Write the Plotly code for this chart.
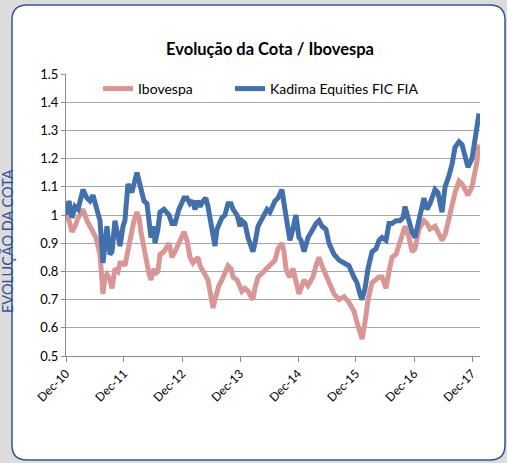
import plotly.graph_objects as go

# ---------------- data ----------------
dates = [
    "2010-12-31", "2011-01-19", "2011-02-07", "2011-02-26", "2011-03-17", "2011-04-17", "2011-05-12",
    "2011-05-31", "2011-06-19", "2011-07-08", "2011-08-02", "2011-08-21", "2011-09-02", "2011-09-15",
    "2011-10-04", "2011-10-17", "2011-11-04", "2011-11-23", "2011-12-06", "2011-12-25", "2012-01-06",
    "2012-01-25", "2012-02-19", "2012-03-03", "2012-03-22", "2012-04-04", "2012-04-16", "2012-05-05",
    "2012-05-24", "2012-06-06", "2012-06-18", "2012-07-07", "2012-07-13", "2012-08-01", "2012-08-14",
    "2012-09-08", "2012-10-10", "2012-10-28", "2012-11-16", "2012-12-11", "2013-01-12", "2013-01-31",
    "2013-02-19", "2013-03-10", "2013-03-22", "2013-04-10", "2013-04-23", "2013-05-12", "2013-05-30",
    "2013-06-12", "2013-07-01", "2013-07-14", "2013-07-26", "2013-08-08", "2013-08-20", "2013-09-08",
    "2013-09-27", "2013-10-16", "2013-11-04", "2013-11-17", "2013-12-12", "2013-12-31", "2014-01-12",
    "2014-01-31", "2014-02-19", "2014-03-10", "2014-03-22", "2014-04-04", "2014-04-23", "2014-05-12",
    "2014-05-31", "2014-06-19", "2014-07-07", "2014-07-20", "2014-08-08", "2014-08-27", "2014-09-21",
    "2014-10-04", "2014-10-16", "2014-10-29", "2014-11-10", "2014-11-29", "2014-12-18", "2015-01-06",
    "2015-01-19", "2015-02-07", "2015-03-04", "2015-04-04", "2015-04-23", "2015-05-12", "2015-05-31",
    "2015-06-25", "2015-07-14", "2015-08-15", "2015-09-15", "2015-10-17", "2015-11-17", "2015-12-18",
    "2016-01-06", "2016-01-25", "2016-02-07", "2016-02-26", "2016-03-16", "2016-04-10", "2016-05-05",
    "2016-05-24", "2016-06-12", "2016-07-07", "2016-07-26", "2016-08-14", "2016-09-08", "2016-10-03",
    "2016-10-22", "2016-11-04", "2016-11-29", "2016-12-18", "2017-01-06", "2017-01-31", "2017-03-03",
    "2017-03-22", "2017-04-10", "2017-05-12", "2017-05-30", "2017-06-25", "2017-07-14", "2017-08-08",
    "2017-08-27", "2017-09-15", "2017-10-10", "2017-10-29", "2017-11-17", "2017-12-05", "2017-12-31",
    "2018-01-19", "2018-01-31", "2018-02-13",
]

kadima = [
    1.00, 1.05, 0.99, 1.03, 1.02, 1.09, 1.06,
    1.05, 1.07, 1.03, 0.98, 0.83, 0.92, 0.96,
    0.86, 0.87, 0.98, 0.92, 0.89, 0.96, 0.98,
    1.11, 1.08, 1.11, 1.15, 1.12, 1.09, 1.05,
    1.04, 0.96, 0.92, 0.96, 0.90, 0.95, 1.01,
    1.02, 1.00, 0.97, 0.97, 1.02, 1.06, 1.06,
    1.04, 1.05, 1.02, 1.05, 1.03, 1.05, 1.06,
    1.03, 0.96, 0.91, 0.89, 0.95, 0.97, 0.99,
    1.00, 1.04, 1.04, 1.02, 1.00, 0.96, 0.98,
    0.97, 0.92, 0.89, 0.87, 0.90, 0.96, 0.98,
    1.00, 1.02, 1.01, 1.03, 1.05, 1.06, 1.09,
    1.04, 1.00, 0.96, 0.91, 0.95, 1.00, 0.92,
    0.91, 0.87, 0.92, 0.95, 0.97, 0.98, 0.96,
    0.95, 0.90, 0.86, 0.84, 0.83, 0.82, 0.78,
    0.76, 0.72, 0.70, 0.74, 0.81, 0.87, 0.88,
    0.91, 0.92, 0.91, 0.97, 0.97, 0.98, 0.98,
    0.99, 1.03, 0.97, 0.94, 0.92, 0.98, 1.06,
    1.02, 1.04, 1.09, 1.08, 1.01, 1.10, 1.14,
    1.18, 1.24, 1.26, 1.25, 1.20, 1.17, 1.20,
    1.28, 1.32, 1.36,
]

ibovespa = [
    1.00, 0.98, 0.94, 0.96, 0.99, 1.02, 0.98,
    0.96, 0.94, 0.92, 0.86, 0.72, 0.78, 0.79,
    0.77, 0.74, 0.81, 0.80, 0.83, 0.83, 0.82,
    0.88, 0.96, 0.98, 1.01, 0.99, 0.94, 0.88,
    0.83, 0.79, 0.77, 0.81, 0.79, 0.80, 0.86,
    0.87, 0.90, 0.85, 0.87, 0.90, 0.94, 0.91,
    0.85, 0.83, 0.84, 0.85, 0.82, 0.80, 0.79,
    0.77, 0.71, 0.67, 0.70, 0.73, 0.75, 0.77,
    0.80, 0.82, 0.81, 0.78, 0.77, 0.75, 0.73,
    0.74, 0.73, 0.71, 0.70, 0.74, 0.78, 0.79,
    0.80, 0.81, 0.82, 0.83, 0.84, 0.88, 0.90,
    0.87, 0.81, 0.79, 0.78, 0.81, 0.77, 0.72,
    0.74, 0.77, 0.75, 0.78, 0.82, 0.85, 0.82,
    0.79, 0.76, 0.72, 0.70, 0.71, 0.69, 0.66,
    0.62, 0.58, 0.56, 0.62, 0.70, 0.76, 0.77,
    0.78, 0.78, 0.74, 0.80, 0.85, 0.86, 0.91,
    0.94, 0.96, 0.92, 0.87, 0.88, 0.95, 0.98,
    0.97, 0.95, 0.96, 0.94, 0.91, 0.93, 0.99,
    1.03, 1.08, 1.12, 1.11, 1.09, 1.07, 1.10,
    1.15, 1.19, 1.25,
]

x_tick_dates = ["2010-12-31", "2011-12-31", "2012-12-31", "2013-12-31",
                "2014-12-31", "2015-12-31", "2016-12-31", "2017-12-31"]
x_tick_labels = ["Dec-10", "Dec-11", "Dec-12", "Dec-13", "Dec-14", "Dec-15", "Dec-16", "Dec-17"]
y_tick_vals = [0.5, 0.6, 0.7, 0.8, 0.9, 1.0, 1.1, 1.2, 1.3, 1.4, 1.5]
y_tick_labels = ["0.5", "0.6", "0.7", "0.8", "0.9", "1", "1.1", "1.2", "1.3", "1.4", "1.5"]

series_names = ["Ibovespa", "Kadima Equities FIC FIA"]
title_text = "Evolução da Cota / Ibovespa"
side_text = "EVOLUÇÃO DA COTA"

# ---------------- layout geometry (pixels) ----------------
W_FIG, H_FIG = 507, 463
L, R, T, B = 66, 480, 74, 356
PW, PH = R - L, B - T


def px(x):
    return (x - L) / PW


def py(y):
    return (B - y) / PH


PINK = "#d99694"
BLUE = "#4270ad"
GRID = "#a6a6a6"
FRAME = "#2f5597"
FONT = "Lato, 'Open Sans', sans-serif"

fig = go.Figure()
fig.add_trace(go.Scatter(x=dates, y=ibovespa, name=series_names[0], mode="lines",
                         line=dict(color=PINK, width=5), legend="legend"))
fig.add_trace(go.Scatter(x=dates, y=kadima, name=series_names[1], mode="lines",
                         line=dict(color=BLUE, width=5), legend="legend2"))

# rounded white panel
x0, y0, x1, y1, r = 12, 5, 505, 460, 15
path = (
    f"M {px(x0 + r)},{py(y0)} L {px(x1 - r)},{py(y0)} Q {px(x1)},{py(y0)} {px(x1)},{py(y0 + r)} "
    f"L {px(x1)},{py(y1 - r)} Q {px(x1)},{py(y1)} {px(x1 - r)},{py(y1)} "
    f"L {px(x0 + r)},{py(y1)} Q {px(x0)},{py(y1)} {px(x0)},{py(y1 - r)} "
    f"L {px(x0)},{py(y0 + r)} Q {px(x0)},{py(y0)} {px(x0 + r)},{py(y0)} Z"
)
fig.add_shape(type="path", path=path, xref="paper", yref="paper",
              fillcolor="white", line=dict(color=FRAME, width=1.5), layer="below")

fig.add_annotation(text=side_text, xref="paper", yref="paper", x=px(7), y=py(241),
                   textangle=-90, showarrow=False, xanchor="center", yanchor="middle",
                   font=dict(family=FONT, size=14.5, color=FRAME))

legend_common = dict(orientation="h", yanchor="middle", xanchor="left",
                     bgcolor="rgba(0,0,0,0)", font=dict(family=FONT, size=14), itemwidth=30)

fig.update_layout(
    width=W_FIG, height=H_FIG,
    margin=dict(l=L, r=W_FIG - R, t=T, b=H_FIG - B, pad=0),
    paper_bgcolor="#dcdcdc",
    plot_bgcolor="rgba(0,0,0,0)",
    font=dict(family=FONT, size=13, color="#000000"),
    title=dict(text=f"<b>{title_text}</b>", x=270 / W_FIG, y=1 - 49 / H_FIG, xref="container",
               yref="container", xanchor="center", yanchor="middle",
               font=dict(family=FONT, size=16.5, color="#000000")),
    showlegend=True,
    legend=dict(x=px(98), y=py(89), **legend_common),
    legend2=dict(x=px(230), y=py(89), **legend_common),
    xaxis=dict(type="date", range=["2010-12-31", "2018-02-19"], tickvals=x_tick_dates,
               ticktext=x_tick_labels, tickangle=-45, showgrid=False, showline=True,
               linecolor="#8c8c8c", linewidth=1, ticks="outside", ticklen=5, tickcolor="#8c8c8c",
               tickfont=dict(family=FONT, size=12), zeroline=False),
    yaxis=dict(range=[0.5, 1.5], tickvals=y_tick_vals, ticktext=y_tick_labels, showgrid=True,
               gridcolor=GRID, gridwidth=1, showline=True, linecolor="#8c8c8c", linewidth=1,
               ticks="outside", ticklen=4, tickcolor="#8c8c8c", zeroline=False,
               tickfont=dict(family=FONT, size=13)),
)

fig.write_html("out.html", config={"displayModeBar": False},
               post_script="document.body.style.margin='0';")
